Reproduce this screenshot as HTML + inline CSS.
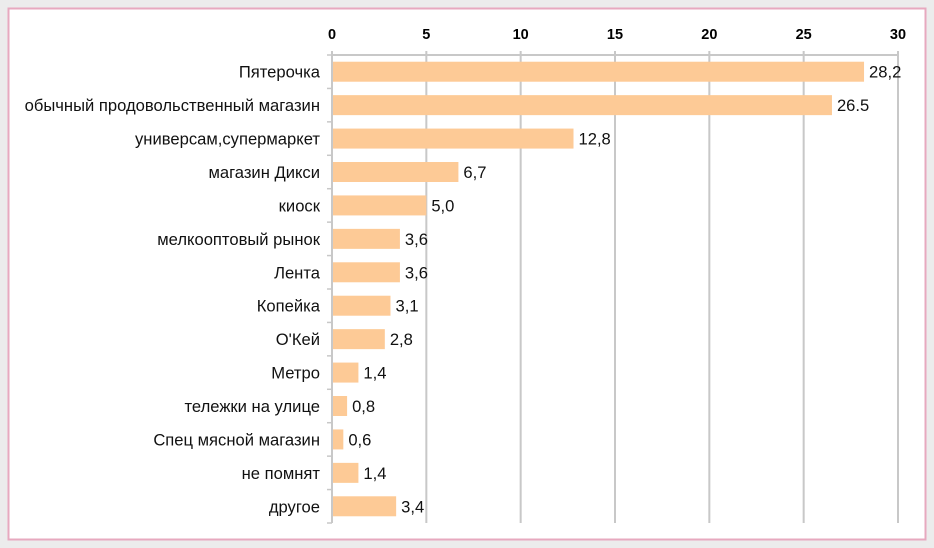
<!DOCTYPE html>
<html><head><meta charset="utf-8"><style>
body{margin:0;background:#ececec;}
svg{display:block;font-family:"Liberation Sans",sans-serif;}
</style></head><body>
<svg id="c" width="934" height="548">
<rect x="0" y="0" width="934" height="548" fill="#ececec"/>
<rect x="8.5" y="8.5" width="917" height="531" fill="#fff" stroke="#e7a9bf" stroke-width="2"/>
</svg>
<script>
const categories=["Пятерочка","обычный продовольственный магазин","универсам,супермаркет","магазин Дикси","киоск","мелкооптовый рынок","Лента","Копейка","О'Кей","Метро","тележки на улице","Спец мясной магазин","не помнят","другое"];
const values=[28.2,26.5,12.8,6.7,5.0,3.6,3.6,3.1,2.8,1.4,0.8,0.6,1.4,3.4];
const labels=["28,2","26.5","12,8","6,7","5,0","3,6","3,6","3,1","2,8","1,4","0,8","0,6","1,4","3,4"];
const ticks=[0,5,10,15,20,25,30];
const svg=document.getElementById('c');const NS="http://www.w3.org/2000/svg";
const x0=332,x1=898,y0=55,y1=523,max=30;
const xs=v=>x0+(x1-x0)*v/max;
const band=(y1-y0)/categories.length;
function mk(t,a,txt){const e=document.createElementNS(NS,t);for(const k in a)e.setAttribute(k,a[k]);if(txt!=null)e.textContent=txt;svg.appendChild(e);return e;}
ticks.forEach(t=>{
 const g=mk('line',{x1:xs(t),x2:xs(t),y1:y0-4,y2:y1,stroke:'#c8c8c8','stroke-width':2});
 
 
 const l=mk('text',{x:xs(t),y:39,'text-anchor':'middle','font-size':14.5,'font-weight':'bold',fill:'#000'},String(t));
 
 
});
const ax=mk('line',{x1:x0,x2:x1,y1:y0,y2:y0,stroke:'#c8c8c8','stroke-width':2});


for(let i=0;i<=categories.length;i++){const t=mk('line',{x1:x0-5,x2:x0,y1:y0+i*band,y2:y0+i*band,stroke:'#c8c8c8','stroke-width':1.5});
 
 }
categories.forEach((c,i)=>{
 const cy=y0+band*(i+0.5);
 const r=mk('rect',{x:x0+1,y:cy-10,width:xs(values[i])-x0-1,height:20,fill:'#fdca96'});
 
 
 const t=mk('text',{x:320,y:cy+6,'text-anchor':'end','font-size':16.6,fill:'#111'},c);
 
 
 const v=mk('text',{x:xs(values[i])+5,y:cy+6,'font-size':16.6,fill:'#111'},labels[i]);
 
 
});
</script>
</body></html>
